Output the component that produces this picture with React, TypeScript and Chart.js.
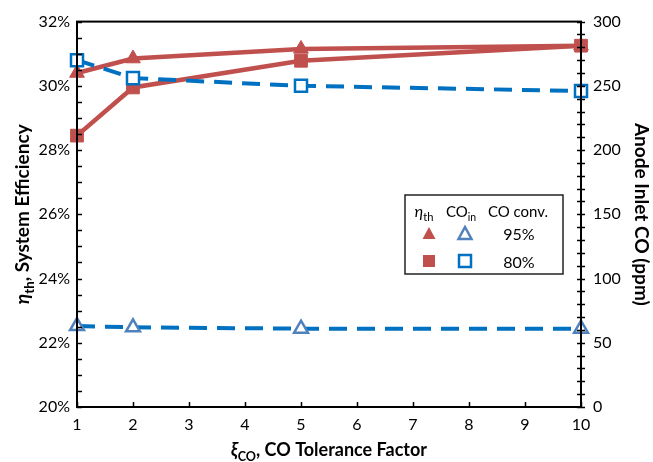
import React, { useEffect, useRef } from "react";
import { Chart, registerables } from "chart.js";

Chart.register(...registerables);

const xValues = [1, 2, 5, 10];
const etaConv95 = [30.4, 30.85, 31.15, 31.25];
const etaConv80 = [28.45, 29.95, 30.78, 31.25];
const coInConv95 = [63, 62, 61, 61];
const coInConv80 = [270, 256, 250, 246];
const xTicks = [1, 2, 3, 4, 5, 6, 7, 8, 9, 10];
const leftTicks = [20, 22, 24, 26, 28, 30, 32];
const rightTicks = [0, 50, 100, 150, 200, 250, 300];

const RED = "#C0504D";
const BLUE = "#0070C0";
const BLUE2 = "#4F81BD";
const FONT = "Lato, 'Open Sans', sans-serif";

const mkPts = (ys: number[]) => xValues.map((x, i) => ({ x, y: ys[i] }));

function drawSub(ctx: CanvasRenderingContext2D, parts: { t: string; sub?: boolean; italic?: boolean }[], size: number, bold: boolean) {
  let total = 0;
  for (const p of parts) {
    const s = p.sub ? size * 0.7 : size;
    ctx.font = `${p.italic ? "italic " : ""}${bold ? "bold " : ""}${s}px ${FONT}`;
    total += ctx.measureText(p.t).width;
  }
  let x = -total / 2;
  for (const p of parts) {
    const s = p.sub ? size * 0.7 : size;
    ctx.font = `${p.italic ? "italic " : ""}${bold ? "bold " : ""}${s}px ${FONT}`;
    ctx.fillText(p.t, x, p.sub ? size * 0.25 : 0);
    x += ctx.measureText(p.t).width;
  }
  return total;
}

const decorPlugin = {
  id: "decor",
  afterDraw(chart: any) {
    const { ctx, chartArea: a, scales } = chart;
    const sx = scales.x, sy = scales.y, sy1 = scales.y1;
    ctx.save();
    ctx.strokeStyle = "#000";
    ctx.lineWidth = 2;
    ctx.strokeRect(a.left, a.top, a.right - a.left, a.bottom - a.top);
    ctx.lineWidth = 1.5;
    ctx.beginPath();
    for (let v = 20; v <= 32.001; v += 0.5) {
      const y = Math.round(sy.getPixelForValue(v)) + 0.5;
      ctx.moveTo(a.left, y);
      ctx.lineTo(a.left + 5, y);
    }
    for (let v = 0; v <= 300.001; v += 10) {
      const y = Math.round(sy1.getPixelForValue(v)) + 0.5;
      ctx.moveTo(a.right - 4, y);
      ctx.lineTo(a.right + 4, y);
    }
    for (const v of xTicks) {
      const x = Math.round(sx.getPixelForValue(v)) + 0.5;
      ctx.moveTo(x, a.bottom);
      ctx.lineTo(x, a.bottom - 5);
    }
    ctx.stroke();

    ctx.fillStyle = "#000";
    ctx.textBaseline = "alphabetic";
    ctx.textAlign = "left";
    ctx.save();
    ctx.translate((a.left + a.right) / 2, 456);
    drawSub(ctx, [{ t: "ξ", italic: true }, { t: "CO", sub: true }, { t: ", CO Tolerance Factor" }], 18, true);
    ctx.restore();
    ctx.save();
    ctx.translate(29, (a.top + a.bottom) / 2);
    ctx.rotate(-Math.PI / 2);
    drawSub(ctx, [{ t: "η", italic: true }, { t: "th", sub: true }, { t: ", System Efficiency" }], 19, true);
    ctx.restore();
    ctx.save();
    ctx.translate(635, (a.top + a.bottom) / 2);
    ctx.rotate(Math.PI / 2);
    drawSub(ctx, [{ t: "Anode Inlet CO (ppm)" }], 19, true);
    ctx.restore();

    ctx.lineWidth = 1.5;
    ctx.strokeStyle = "#222";
    ctx.fillStyle = "#fff";
    ctx.fillRect(405, 195, 158, 79);
    ctx.strokeRect(405, 195, 158, 79);
    ctx.fillStyle = "#000";
    ctx.save();
    ctx.translate(424, 217);
    drawSub(ctx, [{ t: "η", italic: true }, { t: "th", sub: true }], 16, false);
    ctx.restore();
    ctx.save();
    ctx.translate(461, 217);
    drawSub(ctx, [{ t: "CO" }, { t: "in", sub: true }], 15, false);
    ctx.restore();
    ctx.save();
    ctx.translate(518, 217);
    drawSub(ctx, [{ t: "CO conv." }], 15, false);
    ctx.restore();
    ctx.font = `16px ${FONT}`;
    ctx.textAlign = "center";
    ctx.fillText("95%", 519, 240);
    ctx.fillText("80%", 519, 268);
    const tri = (cx: number, cy: number, fill: boolean) => {
      ctx.beginPath();
      ctx.moveTo(cx, cy - 7);
      ctx.lineTo(cx + 6.5, cy + 5);
      ctx.lineTo(cx - 6.5, cy + 5);
      ctx.closePath();
      if (fill) { ctx.fillStyle = RED; ctx.fill(); }
      else { ctx.fillStyle = "#fff"; ctx.fill(); ctx.strokeStyle = BLUE2; ctx.lineWidth = 2.5; ctx.stroke(); }
    };
    tri(429, 234, true);
    tri(465, 234, false);
    ctx.fillStyle = RED;
    ctx.fillRect(423, 255, 12, 12);
    ctx.fillStyle = "#fff";
    ctx.strokeStyle = BLUE;
    ctx.lineWidth = 2.5;
    ctx.fillRect(459, 255, 12, 12);
    ctx.strokeRect(459, 255, 12, 12);
    ctx.restore();
  },
};

export default function App() {
  const ref = useRef<HTMLCanvasElement | null>(null);
  useEffect(() => {
    document.body.style.margin = "0";
    const chart = new Chart(ref.current as HTMLCanvasElement, {
      type: "line",
      data: {
        datasets: [
          {
            data: mkPts(etaConv95), yAxisID: "y", borderColor: RED, backgroundColor: RED,
            borderWidth: 4.5, pointStyle: "triangle", pointRadius: 8.5, pointBorderWidth: 1, order: 3, clip: false,
          },
          {
            data: mkPts(etaConv80), yAxisID: "y", borderColor: RED, backgroundColor: RED,
            borderWidth: 4.5, pointStyle: "rect", pointRadius: 9, pointBorderWidth: 1, order: 4, clip: false,
          },
          {
            data: mkPts(coInConv95), yAxisID: "y1", borderColor: BLUE, backgroundColor: "#fff",
            borderWidth: 4, borderDash: [18, 10], pointStyle: "triangle", pointRadius: 8,
            pointBorderColor: BLUE2, pointBorderWidth: 2.5, order: 1, clip: false,
          },
          {
            data: mkPts(coInConv80), yAxisID: "y1", borderColor: BLUE, backgroundColor: "#fff",
            borderWidth: 4, borderDash: [18, 10], pointStyle: "rect", pointRadius: 8.5,
            pointBorderColor: BLUE, pointBorderWidth: 2.5, order: 2, clip: false,
          },
        ],
      },
      options: {
        animation: false,
        responsive: false,
        layout: { padding: { top: 15, left: 0, right: 0, bottom: 0 } },
        plugins: { legend: { display: false }, tooltip: { enabled: false } },
        scales: {
          x: {
            type: "linear", min: 1, max: 10,
            afterBuildTicks: (s: any) => { s.ticks = xTicks.map((v) => ({ value: v })); },
            afterFit: (s: any) => { s.height = 55; },
            grid: { display: false, drawTicks: false },
            border: { display: false },
            ticks: { color: "#000", font: { family: FONT, size: 16 }, padding: 8 },
          },
          y: {
            position: "left", min: 20, max: 32,
            afterBuildTicks: (s: any) => { s.ticks = leftTicks.map((v) => ({ value: v })); },
            afterFit: (s: any) => { s.width = 77; },
            grid: { display: false, drawTicks: false },
            border: { display: false },
            ticks: { color: "#000", font: { family: FONT, size: 16 }, padding: 7, callback: (v: any) => `${v}%` },
          },
          y1: {
            position: "right", min: 0, max: 300,
            afterBuildTicks: (s: any) => { s.ticks = rightTicks.map((v) => ({ value: v })); },
            afterFit: (s: any) => { s.width = 72; },
            grid: { display: false, drawTicks: false },
            border: { display: false },
            ticks: { color: "#000", font: { family: FONT, size: 16 }, padding: 12 },
          },
        },
      },
      plugins: [decorPlugin],
    } as any);
    return () => chart.destroy();
  }, []);
  return (
    <div style={{ width: 653, height: 462, background: "#fff" }}>
      <canvas ref={ref} width={653} height={462} style={{ display: "block" }} />
    </div>
  );
}
